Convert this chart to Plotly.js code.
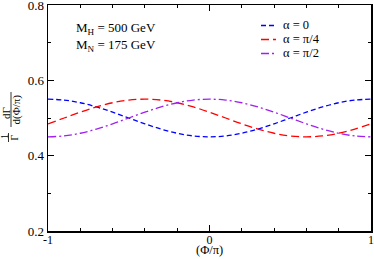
<!DOCTYPE html>
<html><head><meta charset="utf-8">
<script src="https://cdn.plot.ly/plotly-3.0.1.min.js"></script>
<style>html,body{margin:0;padding:0;background:#fff}#c{width:374px;height:259px}</style>
</head><body><div id="c"></div>
<script>
const phi = [-1,-0.9,-0.8,-0.7,-0.6,-0.5,-0.4,-0.3,-0.2,-0.1,0,0.1,0.2,0.3,0.4,0.5,0.6,0.7,0.8,0.9,1];
const alpha0 = [0.55,0.5476,0.5405,0.5294,0.5155,0.5,0.4845,0.4706,0.4595,0.4524,0.45,0.4524,0.4595,0.4706,0.4845,0.5,0.5155,0.5294,0.5405,0.5476,0.55];
const alphaPi4 = [0.4845,0.5,0.5155,0.5294,0.5405,0.5476,0.55,0.5476,0.5405,0.5294,0.5155,0.5,0.4845,0.4706,0.4595,0.4524,0.45,0.4524,0.4595,0.4706,0.4845];
const alphaPi2 = [0.45,0.4524,0.4595,0.4706,0.4845,0.5,0.5155,0.5294,0.5405,0.5476,0.55,0.5476,0.5405,0.5294,0.5155,0.5,0.4845,0.4706,0.4595,0.4524,0.45];
const names = ['α = 0','α = π/4','α = π/2'];
const colors = ['#0000ff','#ff0000','#a020f0'];
const dashes = ['5px,3px','8px,4px','8px,3px,2px,3px'];
const series = [alpha0, alphaPi4, alphaPi2];

const W=374,H=259,L=48,R=3,T=5,B=28;
const pw=W-L-R, ph=H-T-B;
const px = x => (x-L)/pw;
const py = y => (H-B-y)/ph;
const serif = 'Liberation Serif, Times New Roman, serif';

const traces = series.map((s,i)=>({
  x: phi, y: s, type:'scatter', mode:'lines', name:names[i],
  line:{color:colors[i], width:1.3, dash:dashes[i], shape:'spline'}
}));

const ann = (t,x,y,size,angle)=>({text:t, xref:'paper', yref:'paper', x:px(x), y:py(y), showarrow:false, font:{family:serif,size:size,color:'#000'}, textangle:angle||0, xanchor:'center', yanchor:'middle'});

// legend drawn by hand (samples + labels) to match the compact reference legend
const legY = [25.5, 39.5, 53.5];
const legShapes = names.map((n,i)=>({type:'line', xref:'paper', yref:'paper', x0:px(261), x1:px(276), y0:py(legY[i]), y1:py(legY[i]), line:{color:colors[i], width:1.3, dash:dashes[i]}}));
const legAnns = names.map((n,i)=>({text:n, xref:'paper', yref:'paper', x:px(281), y:py(legY[i]), xanchor:'left', yanchor:'middle', showarrow:false, font:{family:serif,size:12.5,color:'#000'}}));

const layout = {
  width:W, height:H, margin:{l:L,r:R,t:T,b:B},
  paper_bgcolor:'#fff', plot_bgcolor:'#fff',
  font:{family:serif, size:13, color:'#000'},
  showlegend:false,
  xaxis:{range:[-1,1], tickvals:[-1,0,1], ticktext:['-1','0','1'], ticks:'inside', ticklen:6, tickwidth:1, tickcolor:'#000',
    showline:true, linecolor:'#000', linewidth:1.5, mirror:'ticks', showgrid:false, zeroline:false,
    minor:{dtick:0.2, ticks:'inside', ticklen:3, tickcolor:'#000', showgrid:false},
    tickfont:{family:serif,size:12}, ticklabeloverflow:'allow', ticklabelstandoff:-3},
  yaxis:{range:[0.2,0.8], tickvals:[0.2,0.4,0.6,0.8], ticktext:['0.2','0.4','0.6','0.8'], ticks:'inside', ticklen:6, tickwidth:1, tickcolor:'#000',
    showline:true, linecolor:'#000', linewidth:1.5, mirror:'ticks', showgrid:false, zeroline:false,
    minor:{dtick:0.1, ticks:'inside', ticklen:3, tickcolor:'#000', showgrid:false},
    tickfont:{family:serif,size:13}, ticklabeloverflow:'allow'},
  annotations:[
    {text:'M<sub>H</sub> = 500 GeV', xref:'paper', yref:'paper', x:px(74), y:py(28), xanchor:'left', yanchor:'middle', showarrow:false, font:{family:serif,size:13}},
    {text:'M<sub>N</sub> = 175 GeV', xref:'paper', yref:'paper', x:px(74), y:py(45), xanchor:'left', yanchor:'middle', showarrow:false, font:{family:serif,size:13}},
    {text:'(Φ/π)', xref:'paper', yref:'paper', x:px(209.5), y:py(259), xanchor:'center', yanchor:'bottom', showarrow:false, font:{family:serif,size:12.5}},
    ann('dΓ',6,113,11,-90),
    ann('d(Φ/π)',16,109.5,11,-90),
    ann('1',4,137,10,-90),
    ann('Γ',13.5,138,10,-90),
    ...legAnns
  ],
  shapes:[
    {type:'line', xref:'paper', yref:'paper', x0:px(11), x1:px(11), y0:py(92), y1:py(127), line:{color:'#000',width:0.8}},
    {type:'line', xref:'paper', yref:'paper', x0:px(8.5), x1:px(8.5), y0:py(133), y1:py(142), line:{color:'#000',width:0.8}},
    ...legShapes
  ]
};
Plotly.newPlot('c', traces, layout, {displayModeBar:false, staticPlot:true});
</script></body></html>
